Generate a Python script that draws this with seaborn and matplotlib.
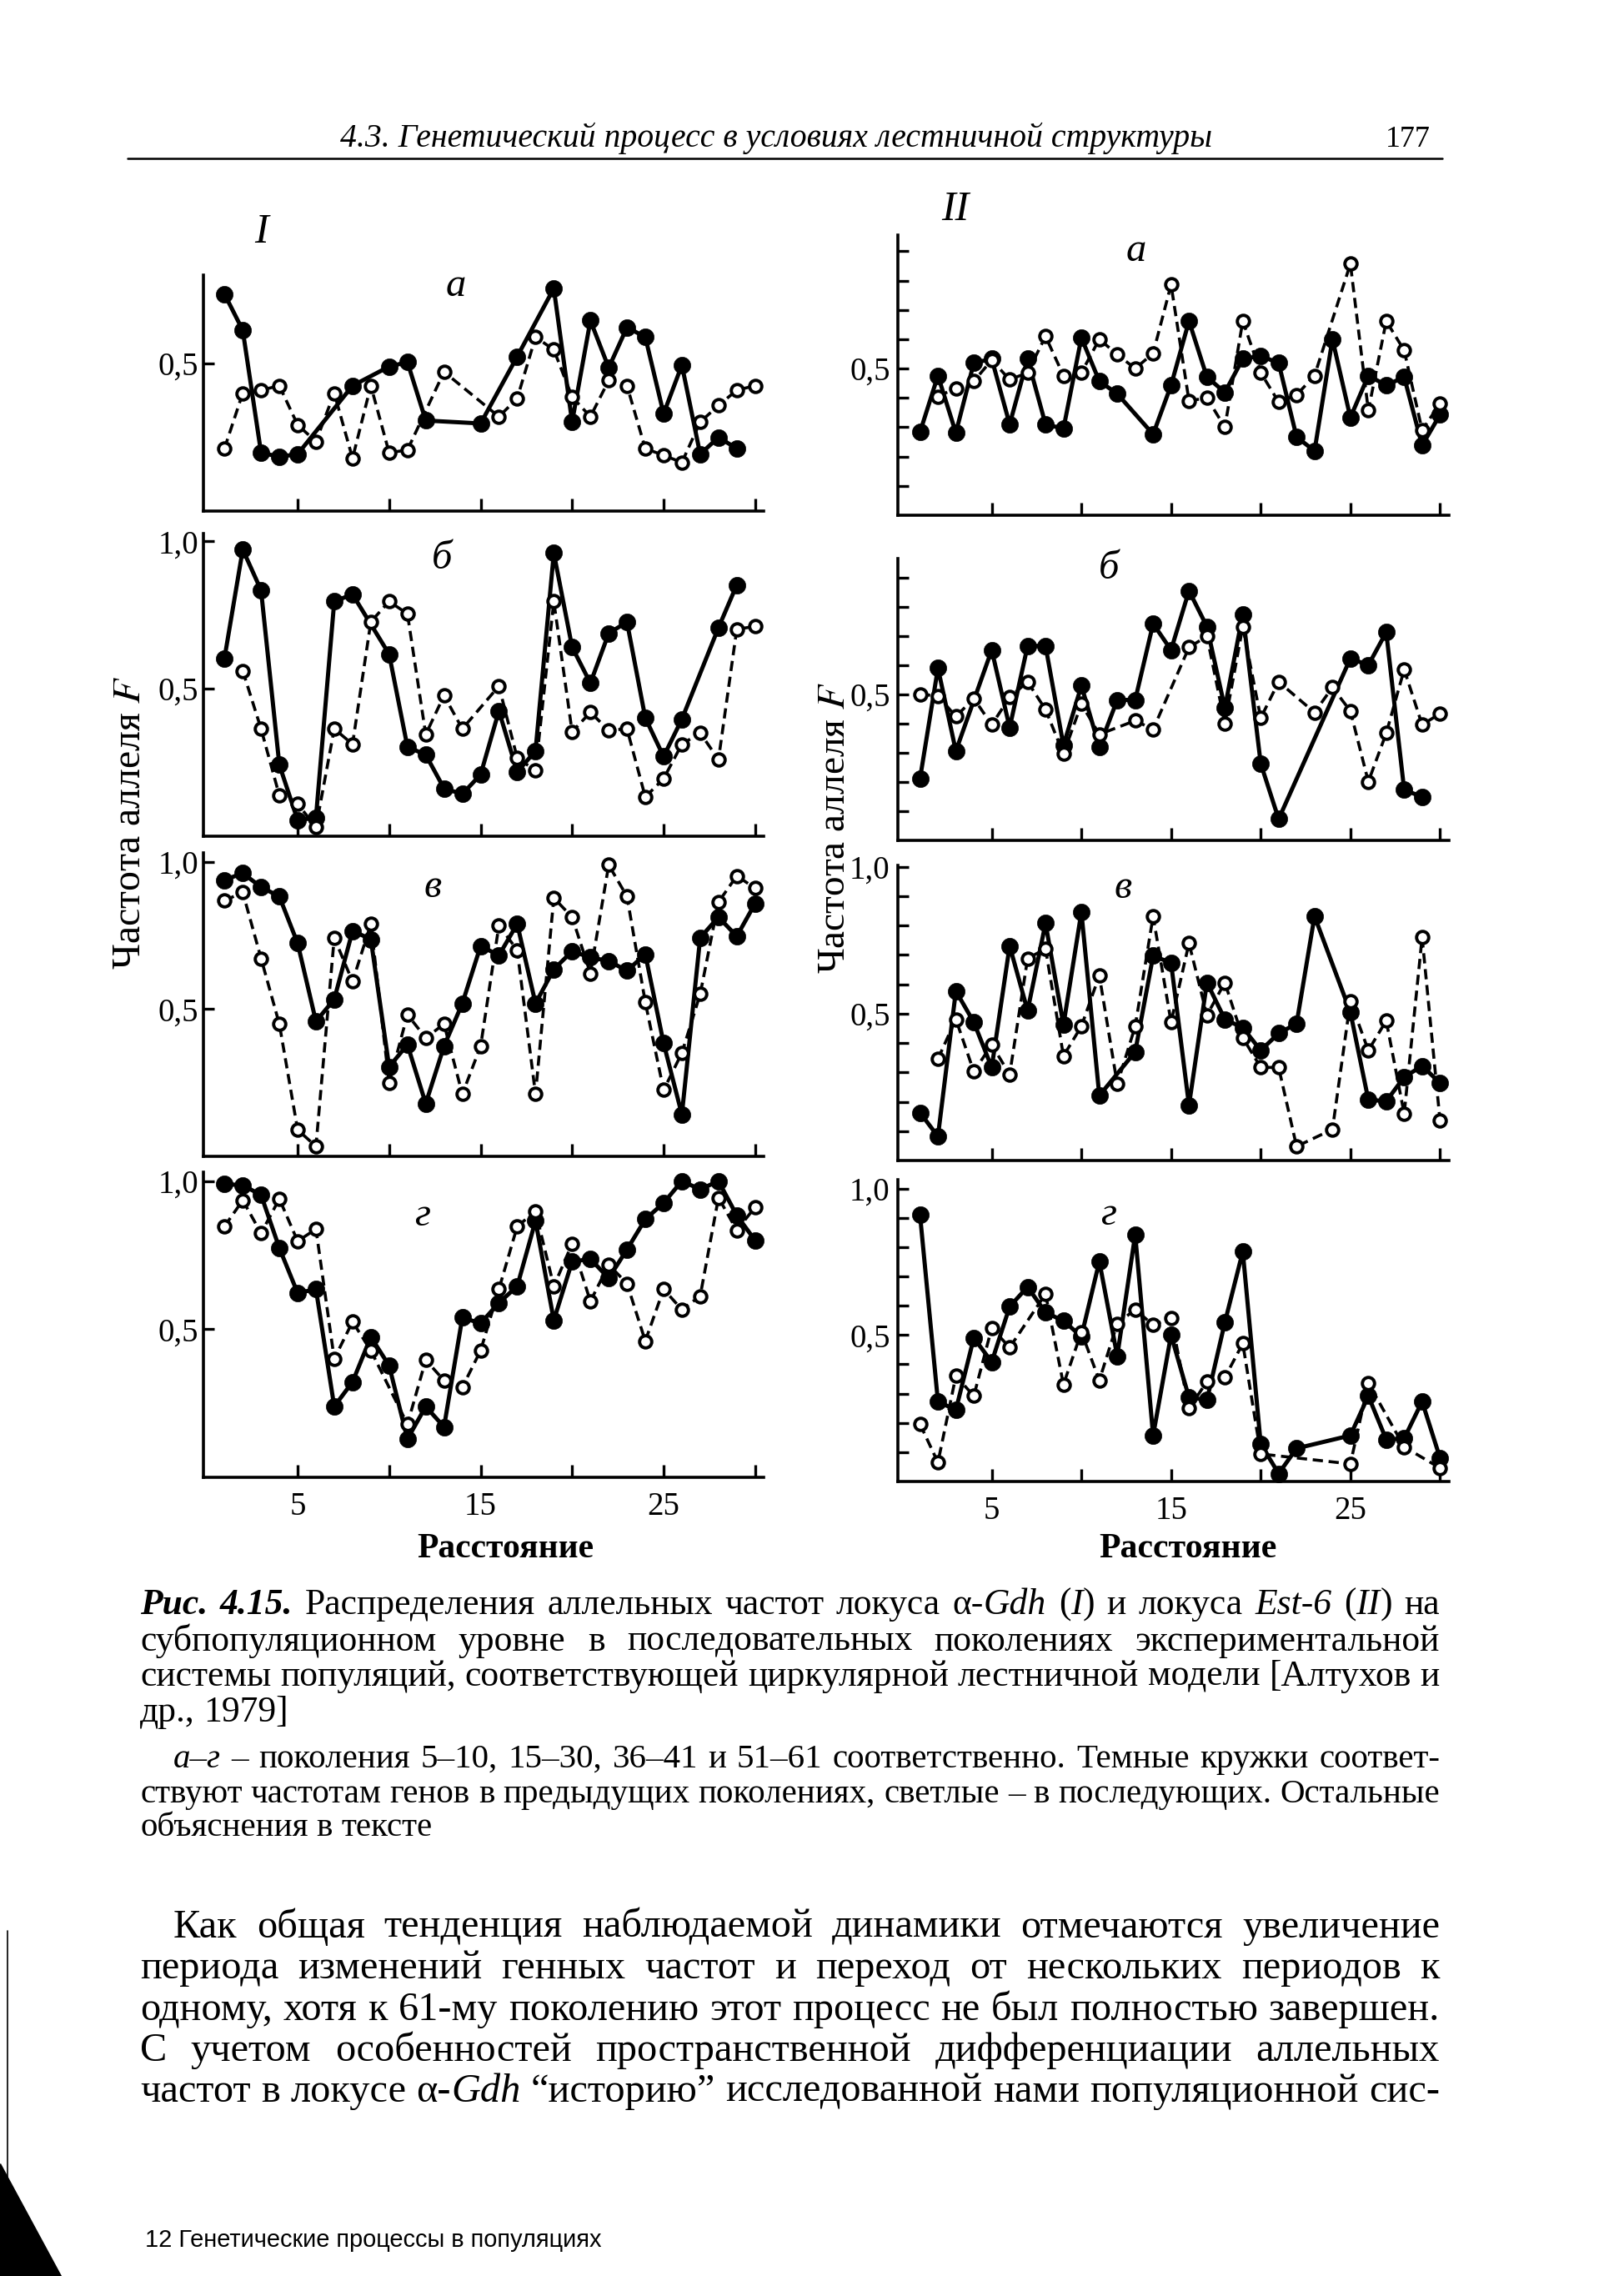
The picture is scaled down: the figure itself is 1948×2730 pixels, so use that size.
import numpy as np
import pandas as pd
import matplotlib
matplotlib.use("Agg")
import matplotlib.pyplot as plt
from matplotlib.patches import Polygon
from matplotlib.lines import Line2D
import seaborn as sns

# Allele frequency F along the ring of subpopulations ("distance" 1..30).
# dark = earlier generation (filled circles), light = later one (open circles).
# None = no circle at that distance, the line just runs across.
distance = list(range(1, 31))

# --- I: alpha-Gdh locus ---
gdh_a_dark = [0.736, 0.613, 0.198, 0.184, 0.193, None, None, 0.425, None, 0.49,
              0.505, 0.307, None, None, 0.297, None, 0.524, None, 0.755, 0.302,
              0.646, 0.486, 0.623, 0.59, 0.33, 0.495, 0.193, 0.25, 0.212, None]
gdh_a_light = [0.212, 0.40, 0.41, 0.425, 0.292, 0.236, 0.40, 0.179, 0.425, 0.198,
               0.207, None, 0.472, None, None, 0.32, 0.382, 0.59, 0.547, 0.387,
               0.32, 0.443, 0.425, 0.212, 0.189, 0.165, 0.302, 0.358, 0.41, 0.425]
gdh_b_dark = [0.603, 0.972, 0.834, 0.242, 0.054, 0.063, 0.796, 0.82, None, 0.617,
              0.303, 0.276, 0.162, 0.143, 0.209, 0.425, 0.218, 0.289, 0.96, 0.641,
              0.519, 0.688, 0.726, 0.401, 0.27, 0.397, None, 0.707, 0.852, None]
gdh_b_light = [None, 0.561, 0.364, 0.138, 0.11, 0.03, 0.364, 0.312, 0.727, 0.796,
               0.754, 0.345, 0.477, 0.364, None, 0.509, 0.265, 0.223, 0.796, 0.354,
               0.42, 0.359, 0.364, 0.133, 0.195, 0.312, 0.35, 0.26, 0.702, 0.711]
gdh_v_dark = [0.938, 0.961, 0.914, 0.882, 0.723, 0.458, 0.533, 0.765, 0.737, 0.304,
              0.379, 0.179, 0.374, 0.519, 0.714, 0.682, 0.789, 0.519, 0.635, 0.696,
              0.675, 0.663, 0.63, 0.686, 0.384, 0.142, 0.742, 0.812, 0.747, 0.858]
gdh_v_light = [0.868, 0.896, 0.672, 0.449, 0.09, 0.034, 0.742, 0.593, 0.789, 0.249,
               0.481, 0.402, 0.449, 0.211, 0.374, 0.784, 0.70, 0.211, 0.877, 0.812,
               0.621, 0.989, 0.882, 0.523, 0.225, 0.351, 0.551, 0.863, 0.952, 0.91]
gdh_g_dark = [0.99, 0.986, 0.953, 0.774, 0.622, 0.635, 0.239, 0.322, 0.474, 0.377,
              0.129, 0.239, 0.17, 0.539, 0.52, 0.589, 0.645, 0.866, 0.53, 0.728,
              0.737, 0.672, 0.769, 0.871, 0.926, 1.0, 0.972, 1.0, 0.884, 0.80]
gdh_g_light = [0.847, 0.935, 0.824, 0.94, 0.797, 0.838, 0.40, 0.525, 0.428, None,
               0.179, 0.396, 0.327, 0.304, 0.428, 0.635, 0.847, 0.898, 0.645, 0.788,
               0.594, 0.718, 0.654, 0.46, 0.635, 0.566, 0.612, 0.944, 0.834, 0.912]

# --- II: Est-6 locus ---
est_a_dark = [0.283, 0.476, 0.281, 0.519, 0.533, 0.31, 0.533, 0.31, 0.295, 0.605,
              0.457, 0.414, None, 0.276, 0.443, 0.662, 0.471, 0.419, 0.533, 0.543,
              0.519, 0.267, 0.219, 0.6, 0.333, 0.476, 0.443, 0.471, 0.238, 0.343]
est_a_light = [None, 0.405, 0.433, 0.457, 0.529, 0.462, 0.486, 0.61, 0.476, 0.486,
               0.6, 0.548, 0.5, 0.552, 0.786, 0.39, 0.4, 0.30, 0.662, 0.486,
               0.386, 0.41, 0.476, None, 0.857, 0.357, 0.662, 0.562, 0.29, 0.381]
est_b_dark = [0.211, 0.59, 0.306, None, 0.652, 0.386, 0.666, 0.666, 0.325, 0.53,
              0.32, 0.481, 0.481, 0.742, 0.652, 0.855, 0.732, 0.453, 0.775, 0.263,
              0.073, None, None, None, 0.623, 0.6, 0.713, 0.173, 0.149, None]
est_b_light = [0.5, 0.495, 0.424, 0.486, 0.396, 0.49, 0.543, 0.448, 0.296, 0.467,
               0.363, None, 0.41, 0.38, None, 0.661, 0.699, 0.40, 0.732, 0.419,
               0.543, None, 0.438, 0.524, 0.443, 0.201, 0.367, 0.585, 0.396, 0.434]
est_v_dark = [0.163, 0.082, 0.577, 0.471, 0.317, 0.731, 0.51, 0.808, 0.462, 0.846,
              0.221, None, 0.37, 0.697, 0.673, 0.188, 0.606, 0.481, 0.452, 0.375,
              0.433, 0.466, 0.832, None, 0.505, 0.207, 0.202, 0.284, 0.322, 0.264]
est_v_light = [None, 0.346, 0.481, 0.303, 0.394, 0.293, 0.688, 0.721, 0.356, 0.457,
               0.63, 0.26, 0.457, 0.832, 0.471, 0.74, 0.495, 0.606, 0.418, 0.317,
               0.317, 0.048, None, 0.106, 0.543, 0.375, 0.476, 0.159, 0.76, 0.135]
est_g_dark = [0.911, 0.273, 0.244, 0.49, 0.408, 0.597, 0.664, 0.577, 0.548, 0.495,
              0.751, 0.428, 0.843, 0.157, 0.5, 0.287, 0.278, 0.543, 0.785, 0.128,
              0.027, 0.113, None, None, 0.157, 0.292, 0.143, 0.147, 0.273, 0.08]
est_g_light = [0.196, 0.065, 0.36, 0.292, 0.524, 0.457, None, 0.64, 0.331, 0.51,
               0.345, 0.539, 0.587, 0.534, 0.558, 0.249, 0.341, 0.355, 0.471, 0.094,
               None, None, None, None, 0.06, 0.336, None, 0.118, None, 0.046]

panel_letters = ["а", "б", "в", "г"]
xtick_values = [5, 10, 15, 20, 25, 30]
xtick_labels = ["5", "", "15", "", "25", ""]

header_text = "4.3. Генетический процесс в условиях лестничной структуры"
page_number = "177"
ylabel_text = "Частота аллеля $\\mathit{F}$"
xlabel_text = "Расстояние"
caption_lines = [
    "*Рис. 4.15.* Распределения аллельных частот локуса α-_Gdh_ (_I_) и локуса _Est-6_ (_II_) на",
    "субпопуляционном уровне в последовательных поколениях экспериментальной",
    "системы популяций, соответствующей циркулярной лестничной модели [Алтухов и",
    "др., 1979]",
]
note_lines = [
    "_а–г_ – поколения 5–10, 15–30, 36–41 и 51–61 соответственно. Темные кружки соответ-",
    "ствуют частотам генов в предыдущих поколениях, светлые – в последующих. Остальные",
    "объяснения в тексте",
]
body_lines = [
    "Как общая тенденция наблюдаемой динамики отмечаются увеличение",
    "периода изменений генных частот и переход от нескольких периодов к",
    "одному, хотя к 61-му поколению этот процесс не был полностью завершен.",
    "С учетом особенностей пространственной дифференциации аллельных",
    "частот в локусе α-_Gdh_ “историю” исследованной нами популяционной сис-",
]
footer_text = "12 Генетические процессы в популяциях"

# --- style ---
sns.set_style("ticks", {"axes.edgecolor": "black", "xtick.color": "black",
                        "ytick.color": "black", "text.color": "black"})
SERIF = "Liberation Serif"
plt.rcParams["font.family"] = [SERIF, "DejaVu Serif"]
plt.rcParams["mathtext.fontset"] = "stix"

W, H = 1949, 2730
fig = plt.figure(figsize=(W / 100, H / 100), dpi=100)
fig.patch.set_facecolor("white")
renderer = fig.canvas.get_renderer()

# layout in page pixels: (left, right) of columns, (top, bottom, ymax) of panels
cols = {
    "I": dict(x=(244, 915.6), xlim=(-0.15, 30.45), ypad=4, minor=False,
              rows=[(330, 613, 0.80), (640, 1003, 1.026), (1023, 1387, 1.03), (1406, 1772, 1.03)],
              letters=[(13.66, 0.764), (12.9, 0.942), (12.4, 0.914), (11.8, 0.884)],
              series=[(gdh_a_dark, gdh_a_light), (gdh_b_dark, gdh_b_light),
                      (gdh_v_dark, gdh_v_light), (gdh_g_dark, gdh_g_light)]),
    "II": dict(x=(1077.3, 1738.1), xlim=(-0.22, 30.5), ypad=7, minor=True,
               rows=[(282, 618, 0.955), (670, 1008, 0.965), (1038, 1392, 1.005), (1415, 1777, 1.03)],
               letters=[(13.05, 0.90), (11.54, 0.931), (12.3, 0.928), (11.5, 0.91)],
               series=[(est_a_dark, est_a_light), (est_b_dark, est_b_light),
                       (est_v_dark, est_v_light), (est_g_dark, est_g_light)]),
}


def draw_series(ax, values, dark):
    df = pd.DataFrame({"distance": distance, "freq": values}).dropna()
    if dark:
        sns.lineplot(data=df, x="distance", y="freq", ax=ax, color="black",
                     linewidth=3.6, marker="o", markersize=14.5,
                     markerfacecolor="black", markeredgecolor="black",
                     markeredgewidth=0.5, estimator=None, errorbar=None,
                     legend=False, clip_on=False, zorder=3)
    else:
        sns.lineplot(data=df, x="distance", y="freq", ax=ax, color="black",
                     linewidth=2.6, linestyle=(0, (3.4, 1.9)), marker="o",
                     markersize=10.5, markerfacecolor="white",
                     markeredgecolor="black", markeredgewidth=2.8,
                     estimator=None, errorbar=None, legend=False,
                     clip_on=False, zorder=4)


for name, col in cols.items():
    x0, x1 = col["x"]
    for i, (top, bottom, ymax) in enumerate(col["rows"]):
        ax = fig.add_axes([x0 / W, 1 - bottom / H, (x1 - x0) / W, (bottom - top) / H])
        ax.patch.set_alpha(0)
        dark, light = col["series"][i]
        draw_series(ax, dark, True)
        draw_series(ax, light, False)

        ax.set_xlim(*col["xlim"])
        ax.set_ylim(0, ymax)
        ax.set_xlabel("")
        ax.set_ylabel("")
        for s in ["top", "right"]:
            ax.spines[s].set_visible(False)
        for s in ["left", "bottom"]:
            ax.spines[s].set_linewidth(2.6)

        ax.set_xticks(xtick_values)
        ax.set_xticklabels(xtick_labels if i == 3 else [""] * len(xtick_values))
        if col["minor"]:
            yt = [round(v / 10, 1) for v in range(1, 11) if v / 10 <= ymax]
        else:
            yt = [v for v in (0.5, 1.0) if v <= ymax]
        ax.set_yticks(yt)
        ax.set_yticklabels([{0.5: "0,5", 1.0: "1,0"}.get(v, "") for v in yt])
        ax.tick_params(axis="x", direction="in", length=11, width=2.4,
                       labelsize=28, pad=12)
        ax.tick_params(axis="y", direction="in", length=9.5, width=2.4,
                       labelsize=28, pad=col["ypad"])

        lx, ly = col["letters"][i]
        ax.text(lx, ly, panel_letters[i], fontsize=35, style="italic",
                ha="center", va="center")


# --- page text ---
STYLE = {"r": {}, "i": {"style": "italic"}, "bi": {"style": "italic", "weight": "bold"}}


def measure(s, size, **kw):
    t = fig.text(0, 0, s, fontsize=size, **kw)
    w = t.get_window_extent(renderer=renderer).width
    t.remove()
    return w


def fit_text(s, x0, x1, y, base=30, ha="left", va="baseline", **kw):
    size = base * (x1 - x0) / measure(s, base, **kw)
    x = x0 if ha == "left" else (x0 + x1) / 2
    return fig.text(x / W, 1 - y / H, s, fontsize=size, ha=ha, va=va, **kw)


def split_words(line):
    words, word, seg, style = [], [], "", "r"
    for ch in line + " ":
        if ch in "_*":
            if seg:
                word.append((seg, style))
                seg = ""
            mark = "i" if ch == "_" else "bi"
            style = "r" if style == mark else mark
        elif ch == " ":
            if seg:
                word.append((seg, style))
                seg = ""
            if word:
                words.append(word)
                word = []
        else:
            seg += ch
    return words


def paragraph(lines, ys, size, x0=168, x1=1727, indent=0, ragged_last=False):
    """Justified lines; size chosen so the tightest line just fits."""
    rows = [split_words(l) for l in lines]

    def seg_w(seg, sz):
        return measure(seg[0], sz, family=SERIF, **STYLE[seg[1]])

    def space_w(sz):
        return measure("n n", sz, family=SERIF) - measure("nn", sz, family=SERIF)

    sp = space_w(size)
    fits = []
    for i, row in enumerate(rows):
        start = x0 + (indent if i == 0 else 0)
        natural = sum(seg_w(s, size) for w in row for s in w) + sp * (len(row) - 1)
        fits.append((x1 - start) / natural)
    size = size * min(fits)
    sp = space_w(size)
    em = size * fig.dpi / 72
    for i, (row, yc) in enumerate(zip(rows, ys)):
        start = x0 + (indent if i == 0 else 0)
        widths = [[seg_w(s, size) for s in w] for w in row]
        total = sum(sum(w) for w in widths)
        last = i == len(rows) - 1
        if (last and ragged_last) or len(row) < 2:
            gap = sp
        else:
            gap = (x1 - start - total) / (len(row) - 1)
        x = start
        base = yc + 0.22 * em
        for word, ws in zip(row, widths):
            for (txt, st), w in zip(word, ws):
                fig.text(x / W, 1 - base / H, txt, fontsize=size, family=SERIF,
                         ha="left", va="baseline", **STYLE[st])
                x += w
            x += gap


# running head
fit_text(header_text, 408, 1453, 176, style="italic")
fit_text(page_number, 1662, 1716, 176)
fig.add_artist(Line2D([153 / W, 1730 / W], [1 - 190 / H] * 2, color="black", lw=1.8))

# column numerals
fig.text(313.5 / W, 1 - 279 / H, "I", fontsize=36, style="italic", ha="center", va="center")
fig.text(1146 / W, 1 - 252 / H, "II", fontsize=36, style="italic", ha="center", va="center")

# axis titles
for xc, yc, length in [(156, 987, 353), (1001.5, 993, 350)]:
    s = 30 * length / measure(ylabel_text, 30)
    fig.text(xc / W, 1 - yc / H, ylabel_text, fontsize=s, rotation=90,
             ha="center", va="center")
fit_text(xlabel_text, 500, 712, 1858, ha="center", va="center", weight="bold")
fit_text(xlabel_text, 1318, 1531, 1858, ha="center", va="center", weight="bold")

# caption, note and body
paragraph(caption_lines, [1926, 1970, 2012, 2055], 30, ragged_last=True)
paragraph(note_lines, [2111, 2153, 2193], 27, indent=40, ragged_last=True)
paragraph(body_lines, [2313, 2362, 2412, 2461, 2510], 35, indent=40)

fit_text(footer_text, 174, 723, 2695, family="Liberation Sans")

# scan edge marks
fig.add_artist(Polygon([[0, 1 - 2595 / H], [0, 0], [73 / W, 0]], closed=True,
                       transform=fig.transFigure, color="black"))
fig.add_artist(Line2D([9 / W, 9 / W], [1 - 2316 / H, 1 - 2613 / H], color="black", lw=1.2))

fig.savefig("out.png", dpi=100, facecolor="white")
